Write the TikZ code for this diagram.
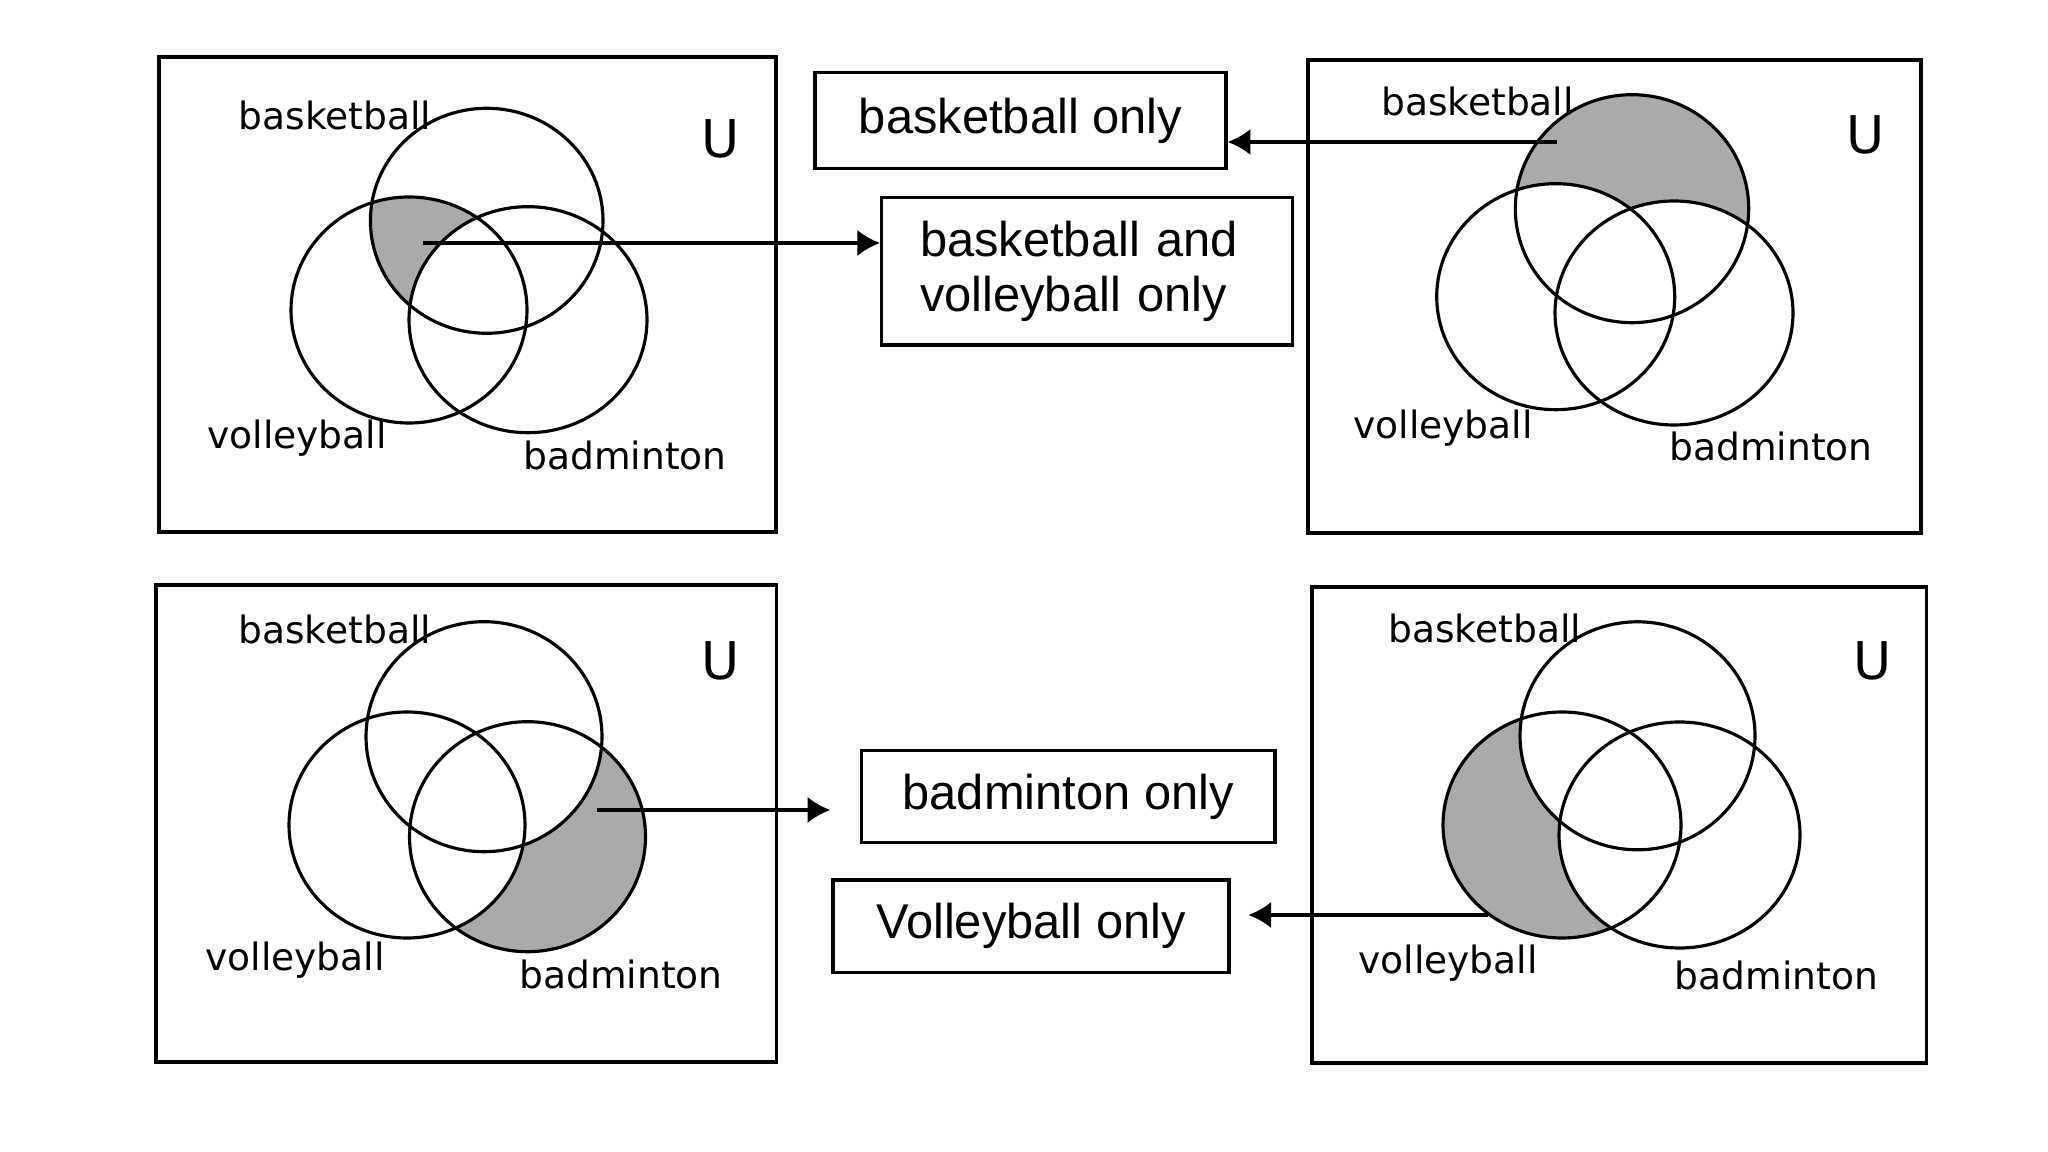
\documentclass[tikz,border=0pt]{standalone}
\usepackage{fontspec}
\setmainfont{Liberation Sans}
\newfontfamily\vennfont{DejaVu Sans}
\usetikzlibrary{arrows.meta}
\definecolor{regiongray}{RGB}{170,170,170}
\begin{document}
\begin{tikzpicture}[x=0.1mm,y=-0.1mm,
  frame/.style={line width=1.1pt},
  setline/.style={line width=0.9pt},
  lbl/.style={font=\vennfont\fontsize{10.7pt}{12pt}\selectfont, inner sep=0pt},
  ulbl/.style={font=\vennfont\fontsize{14.8pt}{16pt}\selectfont, inner sep=0pt},
  tbox/.style={draw, line width=0.9pt, font=\fontsize{13.9pt}{15.6pt}\selectfont, inner sep=0pt, align=left},
  conn/.style={line width=0.9pt, -{Latex[length=6.5pt,width=7.5pt]}}]

\useasboundingbox[fill=white] (0,0) rectangle (2048,1152);

% ---------- text boxes ----------
\node[tbox, minimum width=41.1mm, minimum height=9.56mm] (bonly) at (1020.5,120.5) {basketball only};
\node[tbox, inner xsep=3.83mm, text width=33.44mm, minimum height=14.73mm] (bvonly) at (1087.2,271.3) {basketball and\\volleyball only};
\node[tbox, minimum width=41.33mm, minimum height=9.2mm] (donly) at (1068.3,796.7) {badminton only};
\node[tbox, minimum width=39.6mm, minimum height=9.27mm] (vonly) at (1031,926.3) {Volleyball only};

% ---------- top-left panel: basketball and volleyball only ----------
\draw[frame] (159,57) rectangle (776,532);
\begin{scope}
  \clip (486.7,220.8) ellipse [x radius=11.63mm, y radius=11.25mm];
  \fill[regiongray] (409,310) ellipse [x radius=11.8mm, y radius=11.3mm];
\end{scope}
\fill[white] (528,319.7) ellipse [x radius=11.9mm, y radius=11.3mm];
\draw[setline] (486.7,220.8) ellipse [x radius=11.63mm, y radius=11.25mm];
\draw[setline] (409,310) ellipse [x radius=11.8mm, y radius=11.3mm];
\draw[setline] (528,319.7) ellipse [x radius=11.9mm, y radius=11.3mm];
\node[lbl] (tlb) at (335,115) {basketball};
\node[lbl] (tlv) at (297,438) {volleyball};
\node[lbl] (tld) at (625,455) {badminton};
\node[ulbl] (tlu) at (721,139) {U};
\coordinate (s1) at (423,243);
\draw[conn] (s1) -- (s1 -| bvonly.west);

% ---------- top-right panel: basketball only ----------
\draw[frame] (1308,60) rectangle (1921,533);
\fill[regiongray] (1632,208.7) ellipse [x radius=11.67mm, y radius=11.4mm];
\fill[white] (1555.7,296.7) ellipse [x radius=11.9mm, y radius=11.3mm];
\fill[white] (1674,313) ellipse [x radius=11.9mm, y radius=11.2mm];
\draw[setline] (1632,208.7) ellipse [x radius=11.67mm, y radius=11.4mm];
\draw[setline] (1555.7,296.7) ellipse [x radius=11.9mm, y radius=11.3mm];
\draw[setline] (1674,313) ellipse [x radius=11.9mm, y radius=11.2mm];
\node[lbl] (trb) at (1477.5,101) {basketball};
\node[lbl] (trv) at (1443,428) {volleyball};
\node[lbl] (trd) at (1771,446) {badminton};
\node[ulbl] (tru) at (1866,135) {U};
\coordinate (s2) at (1557,142);
\draw[conn] (s2) -- (s2 -| bonly.east);

% ---------- bottom-left panel: badminton only ----------
\draw[frame] (156,585) rectangle (776.5,1061.7);
\fill[regiongray] (527.5,836.7) ellipse [x radius=11.8mm, y radius=11.5mm];
\fill[white] (484,736.7) ellipse [x radius=11.8mm, y radius=11.5mm];
\fill[white] (407,825) ellipse [x radius=11.8mm, y radius=11.3mm];
\draw[setline] (484,736.7) ellipse [x radius=11.8mm, y radius=11.5mm];
\draw[setline] (407,825) ellipse [x radius=11.8mm, y radius=11.3mm];
\draw[setline] (527.5,836.7) ellipse [x radius=11.8mm, y radius=11.5mm];
\node[lbl] (blb) at (334.7,629) {basketball};
\node[lbl] (blv) at (295,960) {volleyball};
\node[lbl] (bld) at (621,974) {badminton};
\node[ulbl] (blu) at (721,661) {U};
\coordinate (s3) at (597,810);
\draw[conn, shorten >=2.97mm] (s3) -- (s3 -| donly.west);

% ---------- bottom-right panel: volleyball only ----------
\draw[frame] (1312,586.7) rectangle (1926.5,1063.3);
\fill[regiongray] (1562,825) ellipse [x radius=11.9mm, y radius=11.3mm];
\fill[white] (1637.5,735.8) ellipse [x radius=11.75mm, y radius=11.4mm];
\fill[white] (1679.5,835) ellipse [x radius=12.05mm, y radius=11.3mm];
\draw[setline] (1637.5,735.8) ellipse [x radius=11.75mm, y radius=11.4mm];
\draw[setline] (1562,825) ellipse [x radius=11.9mm, y radius=11.3mm];
\draw[setline] (1679.5,835) ellipse [x radius=12.05mm, y radius=11.3mm];
\node[lbl] (brb) at (1484.7,628) {basketball};
\node[lbl] (brv) at (1448,963) {volleyball};
\node[lbl] (brd) at (1776.5,975) {badminton};
\node[ulbl] (bru) at (1873,661) {U};
\coordinate (s4) at (1488,915);
\draw[conn, shorten >=1.77mm] (s4) -- (s4 -| vonly.east);

\end{tikzpicture}
\end{document}
